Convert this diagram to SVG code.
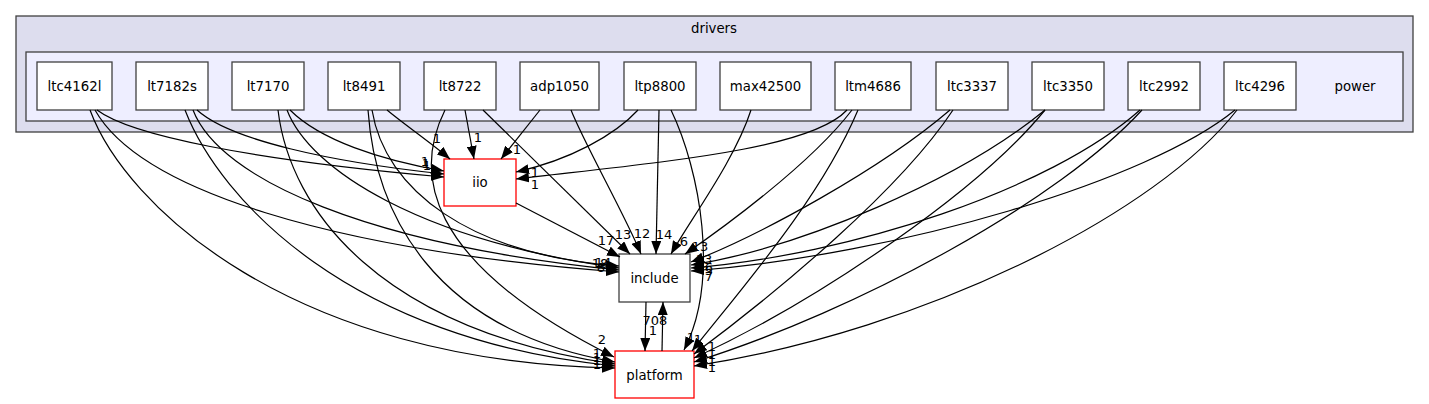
<svg xmlns="http://www.w3.org/2000/svg" width="1429" height="404" viewBox="0 0 1429 404">
<defs>
<marker id="ah" markerWidth="13" markerHeight="10" refX="13" refY="5" orient="auto" markerUnits="userSpaceOnUse"><path d="M0,0 L13,5 L0,10 z" fill="#000"/></marker>
</defs>
<style>
text{font-family:"DejaVu Sans","Liberation Sans",sans-serif;font-size:13.3px;fill:#000}
.nl{text-anchor:middle}
.el{text-anchor:middle;font-size:13px}
.node rect{fill:#fff;stroke:#404040;stroke-width:1.3}
.node.red rect{stroke:#ff0000}
.edges path{fill:none;stroke:#000;stroke-width:1.2;marker-end:url(#ah)}
</style>
<rect width="1429" height="404" fill="#fff"/>
<g id="cluster_drivers">
<rect x="16" y="16" width="1397" height="116" fill="#ddddee" stroke="#404040" stroke-width="1.3"/>
<text class="nl" x="714" y="32.5">drivers</text>
</g>
<g id="cluster_power">
<rect x="26" y="52" width="1377" height="69" fill="#eeeeff" stroke="#404040" stroke-width="1.3"/>
<text class="nl" x="1355" y="90.5">power</text>
</g>
<g id="n_ltc4162l" class="node"><rect x="37" y="62" width="75" height="48"/><text class="nl" x="74.5" y="90.5">ltc4162l</text></g>
<g id="n_lt7182s" class="node"><rect x="136" y="62" width="72" height="48"/><text class="nl" x="172" y="90.5">lt7182s</text></g>
<g id="n_lt7170" class="node"><rect x="232" y="62" width="72" height="48"/><text class="nl" x="268" y="90.5">lt7170</text></g>
<g id="n_lt8491" class="node"><rect x="328" y="62" width="72" height="48"/><text class="nl" x="364" y="90.5">lt8491</text></g>
<g id="n_lt8722" class="node"><rect x="424" y="62" width="72" height="48"/><text class="nl" x="460" y="90.5">lt8722</text></g>
<g id="n_adp1050" class="node"><rect x="520" y="62" width="79" height="48"/><text class="nl" x="559.5" y="90.5">adp1050</text></g>
<g id="n_ltp8800" class="node"><rect x="624" y="62" width="72" height="48"/><text class="nl" x="660" y="90.5">ltp8800</text></g>
<g id="n_max42500" class="node"><rect x="720" y="62" width="91" height="48"/><text class="nl" x="765.5" y="90.5">max42500</text></g>
<g id="n_ltm4686" class="node"><rect x="835" y="62" width="76" height="48"/><text class="nl" x="873" y="90.5">ltm4686</text></g>
<g id="n_ltc3337" class="node"><rect x="936" y="62" width="72" height="48"/><text class="nl" x="972" y="90.5">ltc3337</text></g>
<g id="n_ltc3350" class="node"><rect x="1032" y="62" width="72" height="48"/><text class="nl" x="1068" y="90.5">ltc3350</text></g>
<g id="n_ltc2992" class="node"><rect x="1128" y="62" width="72" height="48"/><text class="nl" x="1164" y="90.5">ltc2992</text></g>
<g id="n_ltc4296" class="node"><rect x="1224" y="62" width="72" height="48"/><text class="nl" x="1260" y="90.5">ltc4296</text></g>
<g id="n_iio" class="node red"><rect x="444" y="159" width="72" height="47"/><text class="nl" x="480" y="187">iio</text></g>
<g id="n_include" class="node"><rect x="619" y="254" width="71" height="48"/><text class="nl" x="654.5" y="282.5">include</text></g>
<g id="n_platform" class="node red"><rect x="615" y="351" width="79" height="47"/><text class="nl" x="654.5" y="379.5">platform</text></g>
<g id="connectors" class="edges">
<path d="M97,110 C130,135 250,160 444,177"/>
<path d="M197,110 C230,140 330,162 444,174"/>
<path d="M290,110 C320,140 380,160 444,171"/>
<path d="M387,110 C405,125 430,142 450,159"/>
<path d="M465,110 L474,159"/>
<path d="M540,110 L501,159"/>
<path d="M638,110 C615,135 570,160 516,172"/>
<path d="M847,110 C810,150 660,162 516,179"/>
<path d="M516,203 L620,257"/>
<path d="M95,110 C140,190 330,250 619,272"/>
<path d="M193,110 C220,180 370,245 619,270"/>
<path d="M287,110 C310,170 420,240 619,268"/>
<path d="M372,110 C385,190 470,255 619,266"/>
<path d="M483,110 L630,254"/>
<path d="M571,110 C585,145 625,215 641,254"/>
<path d="M659,110 L656,254"/>
<path d="M751,110 C735,160 690,220 671,254"/>
<path d="M852,110 C810,165 720,230 685,254"/>
<path d="M950,110 C880,170 760,235 691,262"/>
<path d="M1045,110 C960,180 800,248 691,265"/>
<path d="M1140,110 C1050,190 850,255 691,268"/>
<path d="M1235,110 C1150,180 900,255 691,271"/>
<path d="M90,110 C125,205 290,362 615,368"/>
<path d="M185,110 C220,200 350,340 615,366"/>
<path d="M278,110 C290,210 380,330 615,364"/>
<path d="M368,110 C375,210 430,330 615,362"/>
<path d="M445,110 C415,170 420,260 614,357"/>
<path d="M671,110 C700,170 720,280 684,350"/>
<path d="M858,110 C820,200 740,290 692,351"/>
<path d="M953,110 C900,190 780,290 694,354"/>
<path d="M1045,110 C980,190 820,300 694,358"/>
<path d="M1142,110 C1060,200 860,310 694,362"/>
<path d="M1237,110 C1160,210 930,330 694,366"/>
<path d="M646,302 L645,351"/>
<path d="M662,351 L663,302"/>
</g>
<g id="edge_labels">
<text class="el" x="425" y="166">1</text>
<text class="el" x="426" y="168">1</text>
<text class="el" x="427" y="170">1</text>
<text class="el" x="437" y="143">1</text>
<text class="el" x="478" y="142">1</text>
<text class="el" x="517" y="154">1</text>
<text class="el" x="535" y="177">1</text>
<text class="el" x="535" y="189">1</text>
<text class="el" x="606" y="245">17</text>
<text class="el" x="623" y="239">13</text>
<text class="el" x="642" y="238">12</text>
<text class="el" x="664" y="239">14</text>
<text class="el" x="684" y="246">6</text>
<text class="el" x="700" y="251">13</text>
<text class="el" x="704" y="264">13</text>
<text class="el" x="709" y="272">6</text>
<text class="el" x="709" y="275">5</text>
<text class="el" x="709" y="281">7</text>
<text class="el" x="600" y="268">18</text>
<text class="el" x="603" y="267">14</text>
<text class="el" x="601" y="272">8</text>
<text class="el" x="655" y="325">708</text>
<text class="el" x="653" y="335">1</text>
<text class="el" x="602" y="344">2</text>
<text class="el" x="597" y="358">1</text>
<text class="el" x="597" y="361.5">1</text>
<text class="el" x="597" y="365">1</text>
<text class="el" x="597" y="368.5">1</text>
<text class="el" x="691" y="342">1</text>
<text class="el" x="698" y="344">1</text>
<text class="el" x="712" y="351">1</text>
<text class="el" x="712" y="359">1</text>
<text class="el" x="712" y="366">1</text>
<text class="el" x="712" y="372">1</text>
</g>
</svg>
